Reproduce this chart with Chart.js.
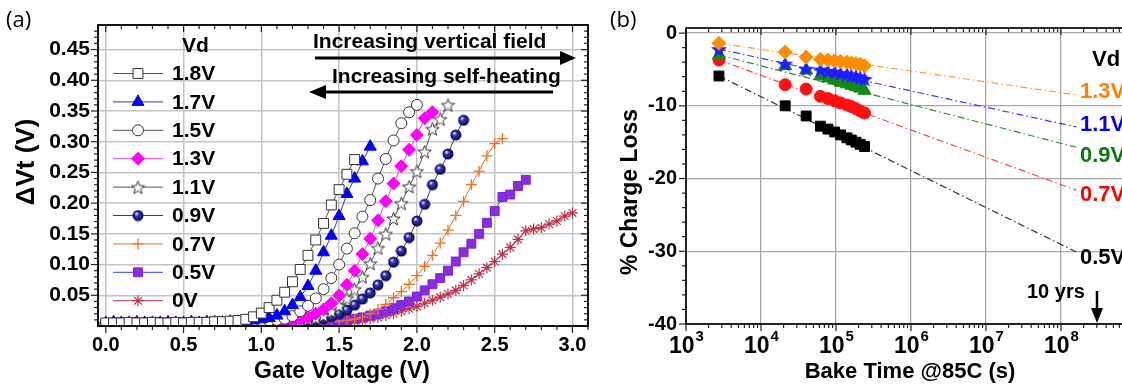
<!DOCTYPE html>
<html>
<head>
<meta charset="utf-8">
<script src="https://cdn.jsdelivr.net/npm/chart.js@4.4.1/dist/chart.umd.min.js"></script>
<style>
  html, body { margin: 0; padding: 0; background: #fff; overflow: hidden; }
  body { width: 1122px; height: 384px; position: relative; }
  #wrapA { position: absolute; left: 0; top: 0; width: 600px; height: 384px; }
  #wrapB { position: absolute; left: 600px; top: 0; width: 545px; height: 384px; }
  .tag { position: absolute; font: 22px "Open Sans", "Liberation Sans", sans-serif; color: #000; }
</style>
</head>
<body>
<div id="wrapA"><canvas id="chartA"></canvas></div>
<div id="wrapB"><canvas id="chartB"></canvas></div>
<div class="tag" style="left:6px;top:3px">(a)</div>
<div class="tag" style="left:610px;top:3px">(b)</div>
<script>
'use strict';

// ---------- panel (a) data ----------
let gateV = [0, 0.05, 0.1, 0.15, 0.2, 0.25, 0.3, 0.35, 0.4, 0.45, 0.5, 0.55, 0.6, 0.65, 0.7, 0.75, 0.8, 0.85, 0.9, 0.95,
  1, 1.05, 1.1, 1.15, 1.2, 1.25, 1.3, 1.35, 1.4, 1.45, 1.5, 1.55, 1.6, 1.65, 1.7, 1.75, 1.8, 1.85, 1.9, 1.95,
  2, 2.05, 2.1, 2.15, 2.2, 2.25, 2.3, 2.35, 2.4, 2.45, 2.5, 2.55, 2.6, 2.65, 2.7, 2.75, 2.8, 2.85, 2.9, 2.95, 3];

let vdNames = ['1.8V', '1.7V', '1.5V', '1.3V', '1.1V', '0.9V', '0.7V', '0.5V', '0V'];

let vd18 = [0.005, 0.005, 0.005, 0.006, 0.005, 0.005, 0.006, 0.005, 0.005, 0.006, 0.005, 0.006, 0.006, 0.006, 0.007, 0.007, 0.008, 0.009,
  0.011, 0.015, 0.021, 0.03, 0.042, 0.055, 0.072, 0.092, 0.115, 0.14, 0.167, 0.197, 0.222, 0.247, 0.271];
let vd17 = [0.005, 0.006, 0.005, 0.005, 0.006, 0.005, 0.005, 0.005, 0.006, 0.005, 0.005, 0.006, 0.005, 0.006, 0.006, 0.006, 0.007, 0.007, 0.008, 0.009, 0.011, 0.013,
  0.017, 0.024, 0.034, 0.047, 0.065, 0.09, 0.12, 0.147, 0.179, 0.215, 0.24, 0.268, 0.292];
let vd15 = [0.004, 0.005, 0.005, 0.005, 0.004, 0.005, 0.005, 0.005, 0.005, 0.004, 0.005, 0.005, 0.005, 0.005, 0.005, 0.006, 0.006, 0.006, 0.007, 0.007, 0.008, 0.009, 0.010, 0.012,
  0.016, 0.024, 0.033, 0.045, 0.06, 0.078, 0.1, 0.126, 0.151, 0.178, 0.205, 0.24, 0.272, 0.302, 0.33, 0.348, 0.36];
let vd13 = [0.004, 0.004, 0.005, 0.004, 0.004, 0.005, 0.004, 0.004, 0.005, 0.004, 0.004, 0.005, 0.004, 0.005, 0.005, 0.005, 0.005, 0.005, 0.006, 0.006, 0.006, 0.007, 0.007, 0.008, 0.009, 0.011, 0.014,
  0.02, 0.027, 0.037, 0.05, 0.067, 0.09, 0.117, 0.142, 0.172, 0.203, 0.232, 0.26, 0.287, 0.311, 0.338, 0.348];
let vd11 = [0.003, 0.004, 0.004, 0.003, 0.004, 0.004, 0.004, 0.003, 0.004, 0.004, 0.004, 0.004, 0.004, 0.004, 0.004, 0.005, 0.005, 0.005, 0.005, 0.005, 0.006, 0.006, 0.007, 0.007, 0.008, 0.009, 0.011, 0.013,
  0.017, 0.024, 0.033, 0.045, 0.06, 0.08, 0.102, 0.127, 0.15, 0.175, 0.2, 0.227, 0.252, 0.284, 0.321, 0.337, 0.36];
let vd09 = [0.004, 0.004, 0.004, 0.004, 0.004, 0.004, 0.004, 0.004, 0.004, 0.004, 0.004, 0.004, 0.004, 0.004, 0.004, 0.004, 0.005, 0.005, 0.005, 0.005, 0.005, 0.006, 0.006, 0.007, 0.007, 0.008, 0.009, 0.010, 0.012,
  0.015, 0.02, 0.026, 0.034, 0.044, 0.054, 0.067, 0.082, 0.104, 0.122, 0.144, 0.171, 0.198, 0.23, 0.255, 0.28, 0.311, 0.335];
let vd07 = [0.003, 0.003, 0.003, 0.003, 0.003, 0.003, 0.003, 0.003, 0.003, 0.003, 0.003, 0.003, 0.003, 0.003, 0.003, 0.003, 0.003, 0.004, 0.004, 0.004, 0.004, 0.004, 0.004, 0.005, 0.005, 0.005, 0.006, 0.006, 0.007, 0.007, 0.008, 0.009, 0.011,
  0.014, 0.02, 0.027, 0.035, 0.046, 0.056, 0.068, 0.082, 0.097, 0.115, 0.135, 0.156, 0.18, 0.203, 0.23, 0.252, 0.277, 0.297, 0.305];
let vd05 = [0.005, 0.005, 0.005, 0.005, 0.005, 0.005, 0.005, 0.005, 0.005, 0.005, 0.005, 0.005, 0.005, 0.005, 0.005, 0.005, 0.005, 0.005, 0.005, 0.005, 0.005, 0.005, 0.006, 0.006, 0.006, 0.006, 0.007, 0.007, 0.007, 0.008,
  0.009, 0.01, 0.012, 0.014, 0.017, 0.02, 0.024, 0.029, 0.034, 0.04, 0.048, 0.058, 0.068, 0.078, 0.09, 0.105, 0.12, 0.134, 0.15, 0.168, 0.187, 0.21, 0.214, 0.228, 0.238];
let vd0 = [0.004, 0.004, 0.004, 0.004, 0.004, 0.004, 0.004, 0.004, 0.004, 0.004, 0.004, 0.004, 0.004, 0.004, 0.004, 0.004, 0.004, 0.004, 0.004, 0.004,
  0.005, 0.005, 0.005, 0.005, 0.005, 0.005, 0.005, 0.005, 0.006, 0.006, 0.006, 0.007, 0.008, 0.009,
  0.012, 0.014, 0.017, 0.02, 0.024, 0.028, 0.032, 0.037, 0.042, 0.047, 0.052, 0.058, 0.066, 0.075, 0.085, 0.095, 0.105, 0.117, 0.128, 0.141, 0.155, 0.158, 0.16, 0.166, 0.171, 0.179, 0.184];

let xTicksA = [0, 0.5, 1, 1.5, 2, 2.5, 3];
let yTicksA = [0.05, 0.1, 0.15, 0.2, 0.25, 0.3, 0.35, 0.4, 0.45];

// ---------- panel (b) data ----------
let bakeTime = [2750, 21000, 40000, 62000, 78000, 96000, 115000, 140000, 160000, 185000, 210000, 240000];
let loss13 = [-1.4, -2.6, -3.3, -3.6, -3.7, -3.8, -3.9, -4.0, -4.1, -4.2, -4.3, -4.5];
let loss11 = [-2.2, -4.2, -4.9, -5.0, -5.2, -5.3, -5.5, -5.6, -5.8, -5.9, -6.1, -6.3];
let loss09 = [-3.0, -4.5, -5.1, -5.9, -6.2, -6.5, -6.8, -7.0, -7.2, -7.4, -7.6, -7.9];
let loss07 = [-3.7, -7.1, -7.7, -8.7, -9.0, -9.3, -9.6, -9.9, -10.1, -10.4, -10.7, -11.0];
let loss05 = [-5.9, -10.0, -11.4, -12.8, -13.2, -13.6, -14.0, -14.4, -14.7, -15.0, -15.3, -15.6];

// extrapolation lines (start point, end point)
let fitTime = [2750, 1.6e8];
let fit13 = [-1.4, -8.5];
let fit11 = [-2.2, -12.9];
let fit09 = [-3.0, -15.7];
let fit07 = [-3.7, -21.6];
let fit05 = [-5.9, -30.1];

let vdNamesB = ['1.3V', '1.1V', '0.9V', '0.7V', '0.5V'];
let xTicksB = [1e3, 1e4, 1e5, 1e6, 1e7, 1e8, 1e9];
let xLabelsB = [1e3, 1e4, 1e5, 1e6, 1e7, 1e8];
let yTicksB = [-40, -30, -20, -10, 0];

const FONT = '"Liberation Sans", Arial, sans-serif';
Chart.defaults.font.family = FONT;
Chart.defaults.color = '#000';

// ---------- marker images ----------
function makeStar(size, outer, inner, fill, stroke) {
  let c = document.createElement('canvas');
  c.width = size; c.height = size;
  let g = c.getContext('2d');
  g.beginPath();
  for (let i = 0; i < 10; i++) {
    let r = i % 2 ? inner : outer;
    let ang = -Math.PI / 2 + i * Math.PI / 5;
    g.lineTo(size / 2 + r * Math.cos(ang), size / 2 + 0.8 + r * Math.sin(ang));
  }
  g.closePath();
  g.fillStyle = fill; g.fill();
  if (stroke) { g.strokeStyle = stroke; g.lineWidth = 1; g.stroke(); }
  return c;
}

function makeBall(size) {
  let c = document.createElement('canvas');
  c.width = size; c.height = size;
  let g = c.getContext('2d');
  let r = size / 2 - 0.5;
  let grad = g.createRadialGradient(size * 0.36, size * 0.34, 0.5, size / 2, size / 2, r);
  grad.addColorStop(0, '#e6e6ff');
  grad.addColorStop(0.3, '#3a3ab0');
  grad.addColorStop(1, '#00005a');
  g.beginPath(); g.arc(size / 2, size / 2, r, 0, Math.PI * 2);
  g.fillStyle = grad; g.fill();
  return c;
}

let openStar = makeStar(15, 7, 2.9, '#fff', '#333');
let navyBall = makeBall(12);
let blueStar = makeStar(18, 8.5, 3.6, '#1e1eff', null);

// ---------- panel (a) ----------
let valuesA = [vd18, vd17, vd15, vd13, vd11, vd09, vd07, vd05, vd0];
let stylesA = [
  { pt: 'rect', r: 7, fill: '#fff', edge: '#333', line: '#555', bw: 1 },
  { pt: 'triangle', r: 7, fill: '#0000ff', edge: '#0000ff', line: '#3a3aa0', bw: 1 },
  { pt: 'circle', r: 5.5, fill: '#fff', edge: '#333', line: '#555', bw: 1 },
  { pt: 'rectRot', r: 6.5, fill: '#ff00ff', edge: '#ff00ff', line: '#e040e0', bw: 1 },
  { pt: openStar, r: 7, fill: '#fff', edge: '#333', line: '#555', bw: 1 },
  { pt: navyBall, r: 6, fill: '#00006a', edge: '#00006a', line: '#444', bw: 1 },
  { pt: 'cross', r: 5.5, fill: '#f07020', edge: '#f07020', line: '#f07020', bw: 1.3 },
  { pt: 'rect', r: 6.3, fill: '#8a2be2', edge: '#7a22e0', line: '#3a3af0', bw: 1 },
  { pt: 'star', r: 5.5, fill: '#c0304a', edge: '#c0304a', line: '#c0304a', bw: 1.2 }
];

let datasetsA = valuesA.map((vals, k) => ({
  label: vdNames[k],
  data: vals.map((y, i) => ({ x: gateV[i], y: y })),
  showLine: true,
  borderColor: stylesA[k].line,
  borderWidth: 1,
  tension: 0,
  fill: false,
  pointStyle: stylesA[k].pt,
  pointRadius: stylesA[k].r,
  pointBackgroundColor: stylesA[k].fill,
  pointBorderColor: stylesA[k].edge,
  pointBorderWidth: stylesA[k].bw
}));

function drawMarker(ctx, st, x, y) {
  if (Chart.helpers && Chart.helpers.drawPoint) {
    Chart.helpers.drawPoint(ctx, { pointStyle: st.pt, rotation: 0, radius: st.r, borderWidth: st.bw }, x, y);
  } else {
    ctx.beginPath(); ctx.arc(x, y, st.r, 0, Math.PI * 2); ctx.fill(); ctx.stroke();
  }
}

function seg(ctx, x1, y1, x2, y2) {
  ctx.beginPath(); ctx.moveTo(x1, y1); ctx.lineTo(x2, y2); ctx.stroke();
}

function tri(ctx, x1, y1, x2, y2, x3, y3) {
  ctx.beginPath(); ctx.moveTo(x1, y1); ctx.lineTo(x2, y2); ctx.lineTo(x3, y3); ctx.closePath(); ctx.fill();
}

let plotA = {
  id: 'plotA',
  afterDraw(chart) {
    let ctx = chart.ctx, a = chart.chartArea, sx = chart.scales.x, sy = chart.scales.y;
    ctx.save();
    ctx.strokeStyle = '#222';
    ctx.lineWidth = 1.2;
    for (let k = 0; k <= 31; k++) {
      let px = sx.getPixelForValue(k / 10);
      if (px < a.left || px > a.right) continue;
      let len = k % 5 === 0 ? 7 : 4;
      seg(ctx, px, a.bottom, px, a.bottom + len);
      seg(ctx, px, a.top, px, a.top + len);
    }
    for (let k = 1; k <= 48; k++) {
      let py = sy.getPixelForValue(k / 100);
      let len = k % 5 === 0 ? 7 : 4;
      seg(ctx, a.left, py, a.left - len, py);
      seg(ctx, a.right, py, a.right - len, py);
    }
    ctx.lineWidth = 2;
    ctx.strokeStyle = '#111';
    ctx.strokeRect(a.left, a.top, a.right - a.left, a.bottom - a.top);

    // legend
    ctx.font = 'bold 21px ' + FONT;
    ctx.fillStyle = '#000';
    ctx.textAlign = 'left';
    ctx.textBaseline = 'alphabetic';
    ctx.fillText('Vd', 182, 52);
    ctx.textBaseline = 'middle';
    stylesA.forEach((st, k) => {
      let y = 73.5 + k * 28.4;
      ctx.strokeStyle = st.line; ctx.lineWidth = 1;
      seg(ctx, 113, y, 163, y);
      ctx.fillStyle = st.fill; ctx.strokeStyle = st.edge; ctx.lineWidth = st.bw;
      drawMarker(ctx, st, 138, y);
      ctx.fillStyle = '#000';
      ctx.fillText(vdNames[k], 172, y + 1);
    });

    // arrows and notes
    ctx.fillStyle = '#000'; ctx.strokeStyle = '#000'; ctx.lineWidth = 3;
    seg(ctx, 315, 58, 562, 58);
    tri(ctx, 576, 58, 560, 51, 560, 65);
    seg(ctx, 553, 92, 324, 92);
    tri(ctx, 309, 92, 326, 85, 326, 99);
    ctx.textBaseline = 'alphabetic';
    ctx.font = 'bold 21px ' + FONT;
    ctx.fillText('Increasing vertical field', 313, 48);
    ctx.fillText('Increasing self-heating', 332, 83);

    // axis titles
    ctx.textAlign = 'center';
    ctx.font = 'bold 23px ' + FONT;
    ctx.fillText('Gate Voltage (V)', 342, 378);
    ctx.save();
    ctx.translate(34, 162);
    ctx.rotate(-Math.PI / 2);
    ctx.font = 'bold 26px ' + FONT;
    ctx.fillText('\u0394Vt (V)', 0, 0);
    ctx.restore();
    ctx.restore();
  }
};

new Chart(document.getElementById('chartA'), {
  type: 'line',
  data: { datasets: datasetsA },
  plugins: [plotA],
  options: {
    animation: false,
    responsive: true,
    maintainAspectRatio: false,
    layout: { padding: { left: 0, top: 25, right: 12, bottom: 0 } },
    plugins: { legend: { display: false }, tooltip: { enabled: false } },
    scales: {
      x: {
        type: 'linear', min: -0.05, max: 3.1,
        afterBuildTicks: s => { s.ticks = xTicksA.map(v => ({ value: v })); },
        afterFit: s => { s.height = 58; },
        grid: { color: '#c4c4c4', lineWidth: 1.5, drawTicks: false },
        border: { display: false },
        ticks: { padding: 7, color: '#000', font: { size: 20, weight: 'bold' }, maxRotation: 0, autoSkip: false, callback: v => Number(v).toFixed(1) }
      },
      y: {
        type: 'linear', min: 0, max: 0.49,
        afterBuildTicks: s => { s.ticks = yTicksA.map(v => ({ value: v })); },
        afterFit: s => { s.width = 98; },
        grid: { color: '#c4c4c4', lineWidth: 1.5, drawTicks: false },
        border: { display: false },
        ticks: { padding: 8, color: '#000', font: { size: 21, weight: 'bold' }, autoSkip: false, callback: v => Number(v).toFixed(2) }
      }
    }
  }
});

// ---------- panel (b) ----------
let lossB = [loss13, loss11, loss09, loss07, loss05];
let fitB = [fit13, fit11, fit09, fit07, fit05];
let stylesB = [
  { pt: 'rectRot', r: 7, color: '#ff8c00', fit: '#ff9a3a', text: '#ff8000' },
  { pt: blueStar, r: 8, color: '#1e1eff', fit: '#3a3aff', text: '#0000ff' },
  { pt: 'triangle', r: 7.5, color: '#138a13', fit: '#2e8b2e', text: '#0a7a0a' },
  { pt: 'circle', r: 6, color: '#ff1010', fit: '#ff4040', text: '#ff0000' },
  { pt: 'rect', r: 7, color: '#000000', fit: '#333333', text: '#000000' }
];

let datasetsB = [];
fitB.forEach((f, k) => {
  datasetsB.push({
    label: vdNamesB[k] + ' fit',
    data: fitTime.map((t, i) => ({ x: t, y: f[i] })),
    showLine: true,
    borderColor: stylesB[k].fit,
    borderWidth: 1.2,
    borderDash: [7, 3, 1.5, 3],
    pointRadius: 0,
    order: 10
  });
});
lossB.forEach((vals, k) => {
  datasetsB.push({
    label: vdNamesB[k],
    data: vals.map((y, i) => ({ x: bakeTime[i], y: y })),
    showLine: false,
    pointStyle: stylesB[k].pt,
    pointRadius: stylesB[k].r,
    pointBackgroundColor: stylesB[k].color,
    pointBorderColor: stylesB[k].color,
    pointBorderWidth: 1,
    order: k
  });
});

let plotB = {
  id: 'plotB',
  afterDraw(chart) {
    let ctx = chart.ctx, a = chart.chartArea, sx = chart.scales.x, sy = chart.scales.y;
    ctx.save();
    ctx.strokeStyle = '#222';
    ctx.lineWidth = 1.2;
    for (let d = 3; d <= 8; d++) {
      for (let m = 1; m <= 9; m++) {
        let px = sx.getPixelForValue(m * Math.pow(10, d));
        let len = m === 1 ? 7 : 4;
        seg(ctx, px, a.bottom, px, a.bottom + len);
        seg(ctx, px, a.top, px, a.top + len);
      }
    }
    for (let v = -40; v <= 0; v += 2) {
      let py = sy.getPixelForValue(v);
      let len = v % 10 === 0 ? 7 : 4;
      seg(ctx, a.left, py, a.left - len, py);
    }
    ctx.lineWidth = 1.8;
    ctx.strokeStyle = '#111';
    ctx.strokeRect(a.left, a.top, a.right - a.left, a.bottom - a.top);

    // decade labels 10^n
    ctx.fillStyle = '#000';
    ctx.textAlign = 'left';
    ctx.textBaseline = 'alphabetic';
    xLabelsB.forEach(v => {
      let px = sx.getPixelForValue(v);
      let ex = String(Math.round(Math.log10(v)));
      ctx.font = 'bold 23px ' + FONT;
      let w1 = ctx.measureText('10').width;
      ctx.font = 'bold 15px ' + FONT;
      let w2 = ctx.measureText(ex).width;
      let x0 = px - (w1 + w2) / 2;
      ctx.font = 'bold 23px ' + FONT;
      ctx.fillText('10', x0, 353);
      ctx.font = 'bold 15px ' + FONT;
      ctx.fillText(ex, x0 + w1 + 1, 341);
    });

    // series labels
    let labelY = [92, 125, 156, 195, 258];
    ctx.font = 'bold 22px ' + FONT;
    ctx.textBaseline = 'middle';
    ctx.fillStyle = '#000';
    ctx.fillText('Vd', 492, 60);
    stylesB.forEach((st, k) => {
      ctx.fillStyle = st.text;
      ctx.fillText(vdNamesB[k], 480, labelY[k]);
    });

    // 10 yrs marker
    ctx.fillStyle = '#000'; ctx.strokeStyle = '#000'; ctx.lineWidth = 2.5;
    ctx.textBaseline = 'alphabetic';
    ctx.font = 'bold 20px ' + FONT;
    ctx.fillText('10 yrs', 427, 298);
    seg(ctx, 497, 291, 497, 310);
    tri(ctx, 497, 323, 491, 308, 503, 308);

    // axis titles
    ctx.textAlign = 'center';
    ctx.font = 'bold 22px ' + FONT;
    ctx.fillText('Bake Time @85C (s)', 310, 378);
    ctx.save();
    ctx.translate(37, 192);
    ctx.rotate(-Math.PI / 2);
    ctx.font = 'bold 23px ' + FONT;
    ctx.fillText('% Charge Loss', 0, 0);
    ctx.restore();
    ctx.restore();
  }
};

new Chart(document.getElementById('chartB'), {
  type: 'line',
  data: { datasets: datasetsB },
  plugins: [plotB],
  options: {
    animation: false,
    responsive: true,
    maintainAspectRatio: false,
    layout: { padding: { left: 0, top: 28, right: 9, bottom: 0 } },
    plugins: { legend: { display: false }, tooltip: { enabled: false } },
    scales: {
      x: {
        type: 'logarithmic', min: 1e3, max: 1e9,
        afterBuildTicks: s => { s.ticks = xTicksB.map(v => ({ value: v })); },
        afterFit: s => { s.height = 60; },
        grid: { color: '#a8a8a8', lineWidth: 1.3, drawTicks: false },
        border: { display: false },
        ticks: { display: false }
      },
      y: {
        type: 'linear', min: -40, max: 0.7,
        afterBuildTicks: s => { s.ticks = yTicksB.map(v => ({ value: v })); },
        afterFit: s => { s.width = 86; },
        grid: { color: '#a8a8a8', lineWidth: 1.3, drawTicks: false },
        border: { display: false },
        ticks: { padding: 9, color: '#000', font: { size: 20, weight: 'bold' }, autoSkip: false, callback: v => String(v) }
      }
    }
  }
});
</script>
</body>
</html>
